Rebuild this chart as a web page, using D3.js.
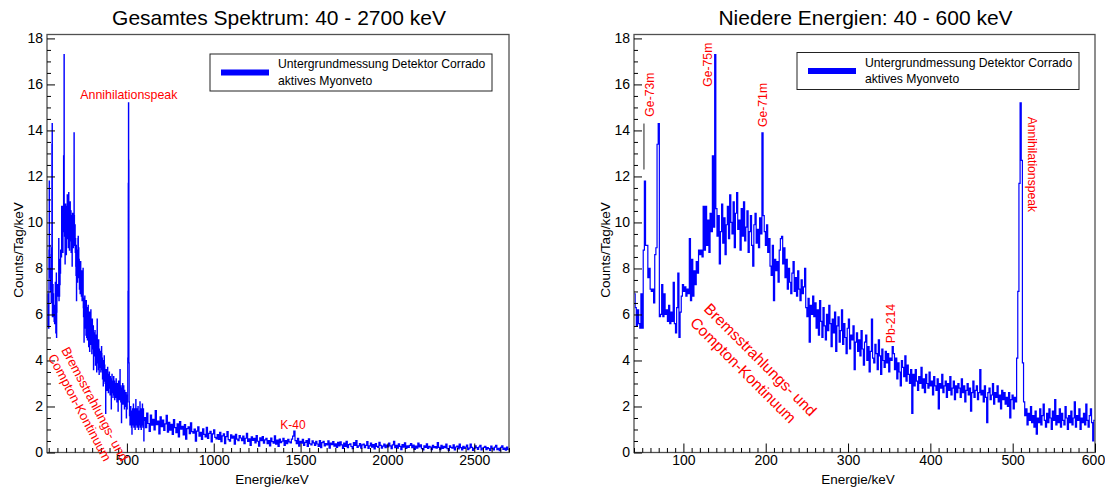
<!DOCTYPE html>
<html>
<head>
<meta charset="utf-8">
<script src="https://cdn.jsdelivr.net/npm/d3@7"></script>
<style>
  html, body { margin: 0; padding: 0; background: #fff; }
  svg { display: block; font-family: "Liberation Sans", Arial, Helvetica, sans-serif; }
</style>
</head>
<body>
<svg id="chart" width="1105" height="489"></svg>
<script>
// Background spectrum, counts per day per keV.
// Low-energy part: 1.4 keV bins starting at 40 keV.
const lowStart = 40;
const lowBinWidth = 1.4;
const lowCounts = [
  6.9, 6.3, 5.5, 6.2, 5.6, 5.4, 6.9, 5.4,
  8.8, 11.8, 9.0, 9.0, 7.6, 8.0, 7.1, 7.0, 7.1, 6.5, 8.6, 8.9, 13.4, 14.3,
  5.9, 6.0, 7.3, 5.9, 6.9, 6.0, 6.2, 5.7, 6.4, 5.6, 6.1, 5.7, 7.4, 5.6, 5.2, 6.3, 7.8, 5.0, 6.1,
  6.8, 7.3, 7.0, 7.2, 6.8, 7.1, 6.9,
  9.3,
  6.6, 8.4, 6.8, 7.9, 7.3, 8.3, 7.8, 8.8, 8.6, 8.8, 8.5, 10.7,
  8.8, 10.7, 9.0, 10.1, 8.7, 10.4, 9.6,
  12.9, 9.8, 17.3, 10.6,
  9.4, 10.3, 8.2, 9.6, 10.8, 9.1, 10.2, 8.6, 9.9, 10.7, 9.3, 11.2, 10.0, 9.5, 10.9, 8.9, 10.4, 11.3, 9.7, 10.1,
  8.8, 10.6, 9.4, 10.9, 9.2, 9.8, 10.5, 8.7, 9.6, 10.3, 9.0, 8.1, 9.9, 10.4, 9.1, 9.7, 8.9, 10.2, 9.5,
  13.9, 10.3,
  9.6, 9.0, 9.9, 8.7, 9.3, 8.1, 7.7, 9.0,
  6.6, 8.4, 7.9, 8.3, 7.4, 8.8, 9.3,
  9.4, 8.2, 8.9, 7.6, 8.4, 7.1, 8.0, 7.4, 6.9, 7.8, 8.3, 7.0, 7.6, 6.8,
  7.9, 7.1, 6.6, 7.5, 6.9, 7.2, 8.0, 6.3, 5.9, 6.7, 4.8, 6.4, 6.0, 6.8,
  5.9, 6.5, 5.4, 6.2, 5.1, 6.6, 5.7, 5.0, 6.3, 5.5, 4.9, 6.0, 5.3, 6.4, 5.6, 4.6, 5.8, 5.2, 6.1, 4.4,
  5.5, 5.9, 4.8, 5.3, 6.2, 4.7, 5.6, 5.0, 4.3, 5.4, 5.8, 4.5, 5.1, 4.9, 5.5, 3.6, 4.8, 5.2, 4.4,
  4.9, 4.2, 5.3, 4.5, 3.8, 4.8, 5.1, 4.0, 4.6, 3.5, 4.4, 5.8, 4.1, 3.9, 4.7, 4.3, 3.6, 4.9, 4.2, 3.4,
  4.5, 4.0, 3.7, 4.4, 3.9, 4.3, 3.5, 4.1, 4.0,
  4.6,
  4.3, 3.6, 4.1, 3.2, 3.9, 3.5, 2.9, 4.0, 3.7, 3.3, 4.2, 3.1, 3.8, 3.4, 3.0, 3.6,
  1.7,
  3.4, 2.9, 3.6, 3.1, 2.7, 3.3, 3.0, 3.7, 2.8, 3.2, 2.6, 3.4, 3.0, 2.8, 3.5, 2.9, 3.1, 2.5, 3.3, 2.9,
  2.7, 3.2, 1.9, 3.0, 2.8, 3.4, 2.6, 2.9, 3.1, 2.4, 3.0, 2.7, 3.3, 2.5, 2.8, 3.1, 2.3, 2.9, 2.6, 3.0,
  2.8, 2.4, 3.2, 2.6, 2.9, 2.2, 2.7, 3.0, 2.5, 2.8, 1.8, 2.6, 3.1, 2.4, 2.7, 2.9, 2.3, 2.6, 3.6, 2.5,
  2.7, 2.2, 2.9, 2.4, 1.3, 2.6, 2.8, 2.3, 2.5, 3.0, 2.1, 2.6, 2.4, 2.9, 2.2, 2.5, 1.9, 2.7, 2.3, 2.6,
  2.1, 2.4, 2.0, 2.6, 1.5, 2.3, 2.5, 1.9, 2.4, 2.2,
  4.1, 7.0, 11.7, 15.2, 12.7, 3.9,
  2.2, 1.6, 1.9, 1.2, 1.7, 1.4, 2.0, 1.3, 1.6, 1.1, 1.8, 0.8, 1.5, 1.3, 1.9, 1.2, 1.6, 2.1, 1.4, 1.1,
  1.7, 1.3, 1.9, 1.5, 1.0, 1.8, 1.4, 2.3, 1.2, 1.6, 1.3, 1.9, 1.1, 1.7, 1.4, 1.2, 2.0, 1.5, 1.0, 1.6,
  1.3, 1.8, 1.2, 1.5, 2.2, 1.1, 1.6, 1.4, 1.9, 1.0, 1.5, 1.3, 1.7, 1.2, 2.1, 1.4, 1.1, 1.6, 1.9, 1.3, 0.5, 1.4
];

// High-energy tail: 7 keV bins starting at 600 keV.
const highStart = 600;
const highBinWidth = 7;
const highCounts = [
  1.52, 1.08, 1.71, 1.26, 0.92, 1.63, 1.19, 1.44, 0.98, 1.82, 1.21, 1.37, 0.81, 1.55, 1.12, 1.41, 0.96, 1.24, 1.62, 0.88,
  1.31, 0.97, 1.22, 0.79, 1.43, 1.08, 0.86, 1.25, 0.68, 1.34, 1.02, 1.14, 0.77, 1.21, 0.58, 1.04, 1.12, 0.82, 1.29, 0.91,
  0.84, 1.02, 0.49, 0.93, 1.11, 0.71, 0.88, 0.57, 1.03, 0.79, 0.68, 1.09, 0.61, 0.83, 0.92, 0.46, 0.81, 0.99, 0.66, 0.59,
  0.78, 0.57, 0.88, 0.47, 0.72, 0.81, 0.38, 0.69, 0.91, 0.56, 0.49, 0.77, 0.62, 0.71, 0.36, 0.79, 0.58, 0.51, 0.74, 0.63,
  0.52, 0.71, 0.39, 0.62, 0.83, 0.48, 0.59, 0.31, 0.68, 0.53, 0.61, 0.42, 0.73, 0.49, 0.28, 0.64, 0.51, 0.69, 0.41, 0.55,
  0.61, 0.38, 0.52, 0.29, 0.63, 0.47, 0.41, 0.72, 0.36, 0.54, 0.27, 0.58, 0.43, 0.49, 0.62, 0.31, 0.52, 0.39, 0.57, 0.46,
  0.42, 0.58, 0.71, 0.93, 0.52, 0.39, 0.61, 0.28, 0.49, 0.41, 0.57, 0.31, 0.44, 0.52, 0.27, 0.59, 0.38, 0.33, 0.51, 0.42,
  0.31, 0.49, 0.37, 0.26, 0.52, 0.21, 0.43, 0.48, 0.29, 0.39, 0.33, 0.51, 0.19, 0.41, 0.34, 0.47, 0.28, 0.38, 0.22, 0.44,
  0.29, 0.46, 0.33, 0.18, 0.41, 0.27, 0.49, 0.21, 0.34, 0.38, 0.26, 0.17, 0.43, 0.31, 0.52, 0.22, 0.29, 0.39, 0.19, 0.33,
  0.37, 0.21, 0.31, 0.47, 0.18, 0.29, 0.41, 0.23, 0.34, 0.16, 0.39, 0.27, 0.22, 0.44, 0.31, 0.19, 0.28, 0.36, 0.21, 0.32,
  0.24, 0.41, 0.29, 0.17, 0.33, 0.48, 0.21, 0.31, 0.19, 0.38, 0.27, 0.12, 0.34, 0.23, 0.42, 0.18, 0.29, 0.22, 0.31, 0.39,
  0.21, 0.32, 0.13, 0.28, 0.19, 0.41, 0.24, 0.33, 0.17, 0.11, 0.29, 0.22, 0.38, 0.18, 0.27, 0.23, 0.12, 0.31, 0.21, 0.26,
  0.19, 0.43, 0.22, 0.12, 0.31, 0.18, 0.27, 0.21, 0.36, 0.17, 0.09, 0.29, 0.22, 0.19, 0.33, 0.11, 0.24, 0.28, 0.16, 0.37,
  0.21, 0.11, 0.27, 0.18, 0.23, 0.32, 0.12, 0.19, 0.36, 0.22, 0.09, 0.18, 0.29, 0.21, 0.13, 0.24, 0.31, 0.11, 0.19, 0.22,
  0.27, 0.12, 0.21, 0.17, 0.09, 0.28, 0.19, 0.11, 0.23, 0.31, 0.12, 0.18, 0.08, 0.22, 0.29, 0.13, 0.19, 0.10, 0.24, 0.14
];

const yTickValues = [0, 2, 4, 6, 8, 10, 12, 14, 16, 18];
const fullTickValues = [500, 1000, 1500, 2000, 2500];
const zoomTickValues = [100, 200, 300, 400, 500, 600];
const legendLines = ["Untergrundmessung Detektor Corrado", "aktives Myonveto"];
const titles = ["Gesamtes Spektrum: 40 - 2700 keV", "Niedere Energien: 40 - 600 keV"];
const xTitle = "Energie/keV";
const yTitle = "Counts/Tag/keV";
const continuumLines = ["Bremsstrahlungs- und", "Compton-Kontinuum"];

// Build bins from both parts
const bins = lowCounts.map((v, i) => ({ x0: lowStart + i * lowBinWidth, x1: lowStart + (i + 1) * lowBinWidth, v }))
  .concat(highCounts.map((v, i) => ({ x0: highStart + i * highBinWidth, x1: highStart + (i + 1) * highBinWidth, v })));

const svg = d3.select("#chart");
const plotTop = 34.5, plotBottom = 452.5;
const yMax = 18.17;
const y = d3.scaleLinear().domain([0, yMax]).range([plotBottom, plotTop]);

const panels = [
  { id: "full", x: d3.scaleLinear().domain([40, 2700]).range([47, 509]), ticks: fullTickValues, minorStep: 50, title: titles[0] },
  { id: "zoom", x: d3.scaleLinear().domain([40, 600]).range([634, 1095]), ticks: zoomTickValues, minorStep: 10, title: titles[1] }
];

function stepPath(x, data) {
  const pts = data.map(b => [x(b.x0), y(b.v)]);
  const last = data[data.length - 1];
  pts.push([x(last.x1), y(last.v)]);
  return d3.line().curve(d3.curveStepAfter)(pts);
}

panels.forEach(p => {
  const x = p.x;
  const [x0, x1] = x.range();
  const g = svg.append("g").attr("class", "panel-" + p.id);

  g.append("clipPath").attr("id", "clip-" + p.id)
    .append("rect").attr("x", x0).attr("y", plotTop).attr("width", x1 - x0).attr("height", plotBottom - plotTop);

  // spectrum
  const [d0, d1] = x.domain();
  const shown = bins.filter(b => b.x1 > d0 && b.x0 < d1);
  g.append("path")
    .attr("d", stepPath(x, shown))
    .attr("clip-path", `url(#clip-${p.id})`)
    .attr("fill", "none")
    .attr("stroke", "#0000ff")
    .attr("stroke-width", 1.2);

  // frame
  g.append("rect")
    .attr("x", x0).attr("y", plotTop).attr("width", x1 - x0).attr("height", plotBottom - plotTop)
    .attr("fill", "none").attr("stroke", "#505050").attr("stroke-width", 1.3);

  // x axis: major ticks with labels, minor ticks
  const minorX = d3.range(Math.ceil(d0 / p.minorStep) * p.minorStep, d1 + 0.001, p.minorStep)
    .filter(v => !p.ticks.includes(v));
  const gxMinor = g.append("g").attr("transform", `translate(0,${plotBottom})`)
    .call(d3.axisBottom(x).tickValues(minorX).tickSize(-4.5).tickFormat(""));
  gxMinor.select(".domain").remove();
  const gx = g.append("g").attr("transform", `translate(0,${plotBottom})`)
    .call(d3.axisBottom(x).tickValues(p.ticks).tickSize(-9).tickPadding(3).tickFormat(d3.format("d")));
  gx.select(".domain").remove();
  gx.selectAll("text").attr("font-size", 14).attr("font-family", "Liberation Sans, Arial, sans-serif").attr("fill", "#000")
    .attr("dx", d => d === d1 ? -2 : 0);

  // y axis
  const minorY = d3.range(0, yMax, 0.5).filter(v => !yTickValues.includes(v));
  const gyMinor = g.append("g").attr("transform", `translate(${x0},0)`)
    .call(d3.axisLeft(y).tickValues(minorY).tickSize(-4).tickFormat(""));
  gyMinor.select(".domain").remove();
  const gy = g.append("g").attr("transform", `translate(${x0},0)`)
    .call(d3.axisLeft(y).tickValues(yTickValues).tickSize(-8).tickPadding(4).tickFormat(d3.format("d")));
  gy.select(".domain").remove();
  gy.selectAll("text").attr("font-size", 14).attr("font-family", "Liberation Sans, Arial, sans-serif").attr("fill", "#000");

  g.selectAll(".tick line").attr("stroke", "#000").attr("stroke-width", 1);

  // titles
  g.append("text").attr("x", (x0 + x1) / 2 + 1).attr("y", 25)
    .attr("text-anchor", "middle").attr("font-size", 21).attr("fill", "#000").text(p.title);
  g.append("text").attr("x", x1 - 237).attr("y", 484)
    .attr("text-anchor", "middle").attr("font-size", 13.5).attr("fill", "#000").text(xTitle);
  g.append("text").attr("transform", `translate(${x0 - 24},250) rotate(-90)`)
    .attr("text-anchor", "middle").attr("font-size", 13.5).attr("fill", "#000").text(yTitle);

  // legend
  const lx = x0 + 163;
  const ly = p.id === "full" ? 54 : 52.5;
  const legend = g.append("g").attr("transform", `translate(${lx},${ly})`);
  legend.append("rect").attr("x", 0).attr("y", 0).attr("width", 282).attr("height", 37)
    .attr("fill", "#fff").attr("stroke", "#222").attr("stroke-width", 1);
  legend.append("rect").attr("x", 11).attr("y", 15.5).attr("width", 48).attr("height", 6).attr("fill", "#0000ff");
  legendLines.forEach((t, i) => {
    legend.append("text").attr("x", 68).attr("y", 14 + i * 16.5)
      .attr("font-size", 12.2).attr("fill", "#000").text(t);
  });
});

// annotations
const red = "#ff0000";
const full = panels[0].x, zoom = panels[1].x;
const gFull = svg.select(".panel-full");
const gZoom = svg.select(".panel-zoom");

gFull.append("text").attr("x", full(511)).attr("y", y(15.35))
  .attr("text-anchor", "middle").attr("font-size", 12.4).attr("fill", red).text("Annihilationspeak");
gFull.append("text").attr("x", full(1456)).attr("y", y(1.0))
  .attr("text-anchor", "middle").attr("font-size", 12).attr("fill", red).text("K-40");
const contFull = gFull.append("g").attr("transform", `translate(${full(121)},${y(4.46)}) rotate(62)`);
continuumLines.forEach((t, i) => {
  contFull.append("text").attr("x", 0).attr("y", i * 15).attr("font-size", 13).attr("fill", red).text(t);
});

function vlabel(text, e, v, angle) {
  gZoom.append("text")
    .attr("transform", `translate(${zoom(e)},${y(v)}) rotate(${angle})`)
    .attr("font-size", 12.2).attr("fill", red).text(text);
}
vlabel("Ge-73m", 64.3, 14.6, -90);
vlabel("Ge-75m", 134.2, 15.9, -90);
vlabel("Ge-71m", 201.6, 14.15, -90);
vlabel("Pb-214", 357, 4.75, -90);
vlabel("Annihilationspeak", 518.6, 14.6, 90);

gZoom.append("line")
  .attr("x1", zoom(52.1)).attr("x2", zoom(52.1)).attr("y1", y(14.3)).attr("y2", y(12.3))
  .attr("stroke", "#222").attr("stroke-width", 1);

const contZoom = gZoom.append("g").attr("transform", `translate(${zoom(123.8)},${y(6.2)}) rotate(45)`);
continuumLines.forEach((t, i) => {
  contZoom.append("text").attr("x", 0).attr("y", i * 19.5).attr("font-size", 15.5).attr("fill", red).text(t);
});
</script>
</body>
</html>
